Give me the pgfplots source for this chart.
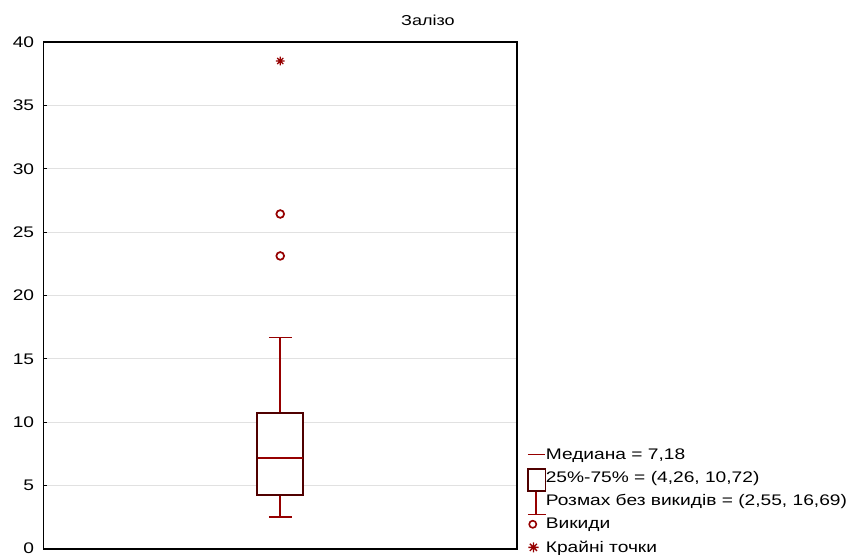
\documentclass[border=0pt]{standalone}
\usepackage{fontspec}
\setmainfont[FakeStretch=1.25]{Liberation Sans}
\usepackage{pgfplots}
\pgfplotsset{compat=1.18}

\definecolor{boxedge}{RGB}{80,0,0}
\definecolor{whisk}{RGB}{150,0,0}
\definecolor{gridc}{RGB}{225,225,225}

% eight-ray asterisk for extreme values
\pgfdeclareplotmark{star8}{%
  \pgfpathmoveto{\pgfqpoint{-\pgfplotmarksize}{0pt}}%
  \pgfpathlineto{\pgfqpoint{\pgfplotmarksize}{0pt}}%
  \pgfpathmoveto{\pgfqpoint{0pt}{-\pgfplotmarksize}}%
  \pgfpathlineto{\pgfqpoint{0pt}{\pgfplotmarksize}}%
  \pgfpathmoveto{\pgfqpoint{-0.707\pgfplotmarksize}{-0.707\pgfplotmarksize}}%
  \pgfpathlineto{\pgfqpoint{0.707\pgfplotmarksize}{0.707\pgfplotmarksize}}%
  \pgfpathmoveto{\pgfqpoint{-0.707\pgfplotmarksize}{0.707\pgfplotmarksize}}%
  \pgfpathlineto{\pgfqpoint{0.707\pgfplotmarksize}{-0.707\pgfplotmarksize}}%
  \pgfusepathqstroke}

% summary statistics: lower whisker 2.55, quartiles 4.26 / 10.72, median 7.18, upper whisker 16.69
\begin{document}
\begin{tikzpicture}
% fixed page frame around the axis
\path[use as bounding box] (-32.625pt,-4.5pt) rectangle ++(640.5pt,416.25pt);
\begin{axis}[
  scale only axis, width=355.1pt, height=380.25pt,
  xmin=0, xmax=2, ymin=0, ymax=40,
  xtick=\empty,
  ytick={0,5,10,15,20,25,30,35,40},
  yticklabels={\raisebox{1.3pt}{0},5,10,15,20,25,30,35,40},
  ytick pos=left,
  ymajorgrids,
  major grid style={gridc, line width=0.8pt},
  axis line style={black, line width=1.1pt},
  tick style={black, line width=0.7pt},
  major tick length=2.5pt,
  tick align=inside,
  yticklabel style={font=\fontsize{11.5}{13}\selectfont, xshift=-3.5pt, inner ysep=0pt},
  clip=false,
  title={Залізо},
  title style={at={(0.812,1)}, anchor=base, yshift=6.4pt, font=\fontsize{10.8}{13}\selectfont},
  legend style={at={(1,0)}, anchor=south west, xshift=7.5pt, yshift=-5pt,
    draw=none, fill=none, inner sep=0pt, row sep=5.6pt, column sep=0pt,
    font=\fontsize{11.5}{13}\selectfont,
    nodes={inner xsep=0pt, inner ysep=1pt}},
  legend cell align=left,
]
% whiskers with caps
\addplot[forget plot, whisk, line width=1.3pt] coordinates {(1,10.72) (1,16.69)};
\addplot[forget plot, whisk, line width=1.3pt] coordinates {(0.9515,16.69) (1.0485,16.69)};
\addplot[forget plot, whisk, line width=1.3pt] coordinates {(1,2.55) (1,4.26)};
\addplot[forget plot, whisk, line width=1.3pt] coordinates {(0.9515,2.55) (1.0485,2.55)};
% interquartile box
\addplot[forget plot, boxedge, line width=1.7pt, fill=white] coordinates
  {(0.903,4.26) (1.097,4.26) (1.097,10.72) (0.903,10.72)} -- cycle;
% median
\addplot[forget plot, whisk, line width=1pt] coordinates {(0.905,7.18) (1.095,7.18)};
% outliers
\addplot[forget plot, only marks, mark=o, mark size=2.9pt, whisk, line width=1.3pt]
  coordinates {(1,26.43) (1,23.12)};
% extreme value
\addplot[forget plot, only marks, mark=star8, mark size=3.2pt, whisk, line width=0.9pt]
  coordinates {(1,38.5)};

\addlegendimage{legend image code/.code={
  \path[draw=none, fill=none] (0pt,-4pt) rectangle (13.5pt,4pt);
  \draw[whisk, line width=0.9pt] (0pt,0pt) -- (13pt,0pt);}}
\addlegendentry{Медиана = 7,18}
\addlegendimage{legend image code/.code={
  \path[draw=none, fill=none] (0pt,-4pt) rectangle (13.5pt,4pt);
  \draw[overlay, boxedge, line width=1.2pt] (0.3pt,-9.6pt) rectangle (13.2pt,6.9pt);}}
\addlegendentry{25\%-75\% = (4,26, 10,72)}
\addlegendimage{legend image code/.code={
  \path[draw=none, fill=none] (0pt,-4pt) rectangle (13.5pt,4pt);
  \draw[overlay, whisk, line width=1pt] (6pt,6.7pt) -- (6pt,-9.8pt)
    (0pt,-9.8pt) -- (13.5pt,-9.8pt);}}
\addlegendentry{Розмах без викидів = (2,55, 16,69)}
\addlegendimage{legend image code/.code={
  \path[draw=none, fill=none] (0pt,-4pt) rectangle (13.5pt,4pt);
  \draw[whisk, line width=1.2pt] (3.7pt,0pt) circle (2.7pt);}}
\addlegendentry{Викиди}
\addlegendimage{legend image code/.code={
  \path[draw=none, fill=none] (0pt,-4pt) rectangle (13.5pt,4pt);
  \draw[whisk, line width=1pt] plot[mark=star8, mark size=3.8pt] coordinates {(4.2pt,0pt)};}}
\addlegendentry{Крайні точки}
\end{axis}
\end{tikzpicture}
\end{document}
